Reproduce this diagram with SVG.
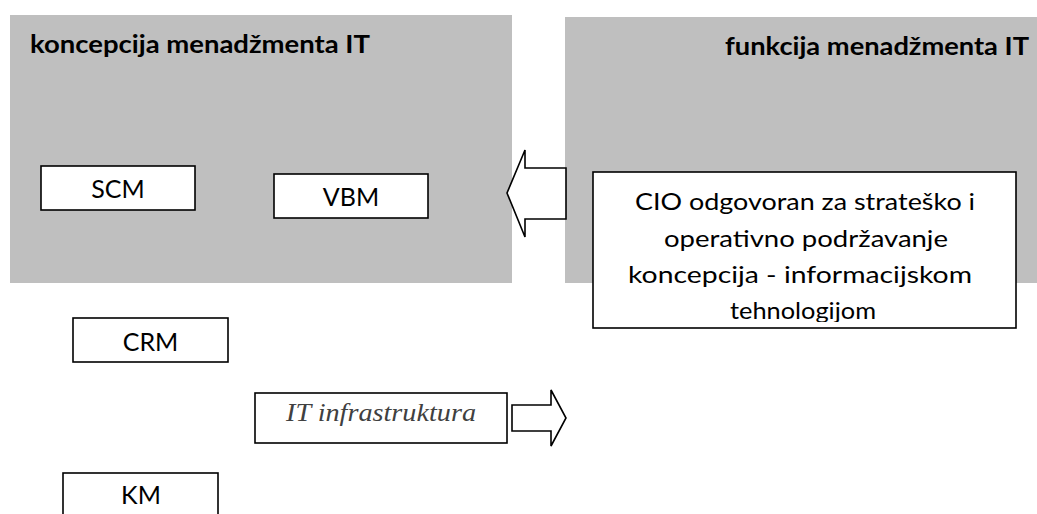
<svg xmlns="http://www.w3.org/2000/svg" width="1037" height="514" viewBox="0 0 1037 514">
  <style>
    .panel { fill: #bfbfbf; }
    .box { fill: #ffffff; stroke: #000000; stroke-width: 1.6; }
    .arrow { fill: #ffffff; stroke: #000000; stroke-width: 1.6; stroke-linejoin: miter; }
    .title { font-family: Lato, "Liberation Sans", sans-serif; font-weight: bold; font-size: 25.5px; fill: #000000; }
    .label { font-family: Lato, "Liberation Sans", sans-serif; font-size: 25px; fill: #000000; text-anchor: middle; }
    .cio { font-family: Lato, "Liberation Sans", sans-serif; font-size: 23px; fill: #000000; text-anchor: middle; }
    .infra { font-family: "Liberation Serif", "DejaVu Serif", serif; font-style: italic; font-size: 26px; fill: #404040; text-anchor: middle; }
  </style>
  <defs>
    <!-- text frame of the CIO box: lines past the inner margin are cut off -->
    <clipPath id="cioClip">
      <rect x="594" y="173" width="421" height="149"/>
    </clipPath>
  </defs>

  <rect width="1037" height="514" fill="#ffffff"/>

  <!-- concept panel -->
  <g id="koncepcija">
    <rect class="panel" x="10" y="15" width="502" height="268"/>
    <text class="title" x="30" y="53" textLength="340" lengthAdjust="spacingAndGlyphs">koncepcija menadžmenta IT</text>
  </g>

  <!-- function panel -->
  <g id="funkcija">
    <rect class="panel" x="565" y="17" width="472" height="266"/>
    <text class="title" x="725" y="55" textLength="304" lengthAdjust="spacingAndGlyphs">funkcija menadžmenta IT</text>
  </g>

  <g id="scm">
    <rect class="box" x="41" y="166" width="154" height="44"/>
    <text class="label" x="118" y="198">SCM</text>
  </g>

  <g id="vbm">
    <rect class="box" x="274" y="174" width="154" height="44"/>
    <text class="label" x="351" y="206">VBM</text>
  </g>

  <g id="cio">
    <rect class="box" x="593" y="172" width="423" height="156"/>
    <g clip-path="url(#cioClip)">
      <text class="cio" x="805" y="210" textLength="340" lengthAdjust="spacingAndGlyphs">CIO odgovoran za strateško i</text>
      <text class="cio" x="806" y="247" textLength="284" lengthAdjust="spacingAndGlyphs">operativno podržavanje</text>
      <text class="cio" x="800" y="283" textLength="344" lengthAdjust="spacingAndGlyphs">koncepcija - informacijskom</text>
      <text class="cio" x="803" y="319" textLength="146" lengthAdjust="spacingAndGlyphs">tehnologijom</text>
    </g>
  </g>

  <g id="crm">
    <rect class="box" x="73" y="318" width="155" height="44"/>
    <text class="label" x="150.5" y="351">CRM</text>
  </g>

  <g id="it-infrastruktura">
    <rect class="box" x="255" y="393" width="252" height="50"/>
    <text class="infra" x="381" y="421" textLength="190" lengthAdjust="spacingAndGlyphs">IT infrastruktura</text>
  </g>

  <g id="km">
    <rect class="box" x="63" y="473" width="155" height="50"/>
    <text class="label" x="141" y="504">KM</text>
  </g>

  <!-- block arrows -->
  <g id="connectors">
    <polygon class="arrow" points="566,168 525,168 525,150 507,193 525,237 525,219 566,219"/>
    <polygon class="arrow" points="512,405 551,405 551,390 566,418 551,446 551,431 512,431"/>
  </g>
</svg>
